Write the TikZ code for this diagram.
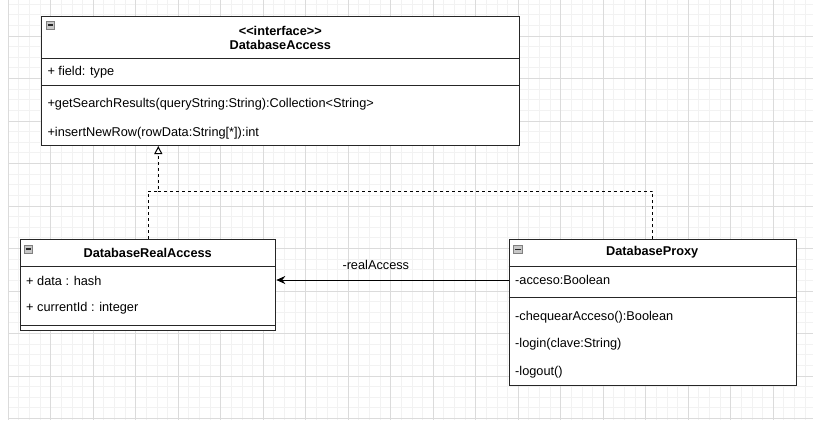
\documentclass[tikz,border=0pt]{standalone}
\usepackage{fontspec}
\setmainfont{Liberation Sans}
\usetikzlibrary{arrows.meta,positioning,calc}

\tikzset{
  gridminor/.style={draw=black!5, line width=0.8pt},
  gridmajor/.style={draw=black!14, line width=0.8pt},
  umlbox/.style={draw=black!85, line width=1pt, fill=white, inner sep=0pt,
    anchor=north west},
  divider/.style={draw=black!85, line width=1pt},
  member/.style={anchor=west, inner sep=0pt, font=\fontsize{12.75}{15}\selectfont},
  classname/.style={inner sep=0pt, font=\fontsize{12.75}{15}\selectfont\bfseries},
  minbox/.style={draw=black!50, fill=black!22, line width=0.8pt,
    minimum width=8.5pt, minimum height=8pt, inner sep=0pt},
  realize/.style={draw=black, line width=1pt, dash pattern=on 3pt off 3pt},
  assoc/.style={draw=black, line width=1pt}
}

\begin{document}
\begin{tikzpicture}[x=1pt,y=-1pt]
  \useasboundingbox[fill=white] (0,0) rectangle (813,420);

  % background grid
  \begin{scope}
    \clip (8.2,0) rectangle (813,420);
    \foreach \i in {0,...,76}
      \draw[gridminor] ({8.2+10.625*\i},0) -- ++(0,420);
    \foreach \j in {0,...,41}
      \draw[gridminor] (8.2,{-6.5+10.625*\j}) -- ++(805,0);
    \foreach \i in {0,...,19}
      \draw[gridmajor] ({8.2+42.5*\i},0) -- ++(0,420);
    \foreach \j in {0,...,10}
      \draw[gridmajor] (8.2,{-6.5+42.5*\j}) -- ++(805,0);
  \end{scope}

  % interface
  \node[umlbox, minimum width=478pt, minimum height=129.3pt] (iface) at (41.3,15.7) {};
  \draw[divider] (41.3,58.3) -- (519.3,58.3);
  \draw[divider] (41.3,85.7) -- (519.3,85.7);
  \node[minbox] (ifacemin) at (50.6,25) {};
  \draw[divider, line width=1.2pt] ([xshift=1.8pt]ifacemin.west) -- ([xshift=-1.8pt]ifacemin.east);
  \node[classname] (ifacest) at (280.3,31) {<{}<interface>{}>};
  \node[classname] (ifacename) at (280.3,45) {DatabaseAccess};
  \node[member] (field) at (47.3,72.3) {+ field: type};
  \node[member] (getres) at (47.3,104.3) {+getSearchResults(queryString:String):Collection<String>};
  \node[member] (insrow) at (47.3,133.3) {+insertNewRow(rowData:String[*]):int};

  % real subject
  \node[umlbox, minimum width=255.3pt, minimum height=91.3pt] (real) at (20,238.7) {};
  \draw[divider] (20,266.7) -- (275.3,266.7);
  \draw[divider] (20,325) -- (275.3,325);
  \node[minbox] (realmin) at (28.5,249) {};
  \draw[divider, line width=1.2pt] ([xshift=1.8pt]realmin.west) -- ([xshift=-1.8pt]realmin.east);
  \node[classname] (realname) at (147.7,252.7) {DatabaseRealAccess};
  \node[member] (data) at (26,280.7) {+ data : hash};
  \node[member] (curid) at (26,308.3) {+ currentId : integer};

  % proxy
  \node[umlbox, minimum width=287pt, minimum height=146pt] (proxy) at (508.7,239) {};
  \draw[divider] (508.7,266.7) -- (795.7,266.7);
  \draw[divider] (508.7,297.7) -- (795.7,297.7);
  \node[minbox] (proxymin) at (517.8,249.2) {};
  \draw[divider, line width=1.2pt] ([xshift=1.8pt]proxymin.west) -- ([xshift=-1.8pt]proxymin.east);
  \node[classname] (proxyname) at (652.2,252.7) {DatabaseProxy};
  \node[member] (acceso) at (515,280) {-acceso:Boolean};
  \node[member] (chequear) at (515,316.7) {-chequearAcceso():Boolean};
  \node[member] (login) at (515,344.3) {-login(clave:String)};
  \node[member] (logout) at (515,372.3) {-logout()};

  % connectors
  \coordinate (join) at (158.3,191);
  \draw[realize, -{Triangle[fill=white, length=8pt, width=8pt, line width=1pt]}]
    (real.north) |- (join) -- (join |- iface.south);
  \draw[realize] (proxy.north) |- (join);
  \draw[assoc, -{Stealth[length=9pt, width=8pt, inset=3pt]}]
    (proxy.west |- acceso.west) -- (real.east |- acceso.west);
  \node[inner sep=0pt, font=\fontsize{12.75}{15}\selectfont] (rolename) at (375.8,265) {-realAccess};
\end{tikzpicture}
\end{document}
